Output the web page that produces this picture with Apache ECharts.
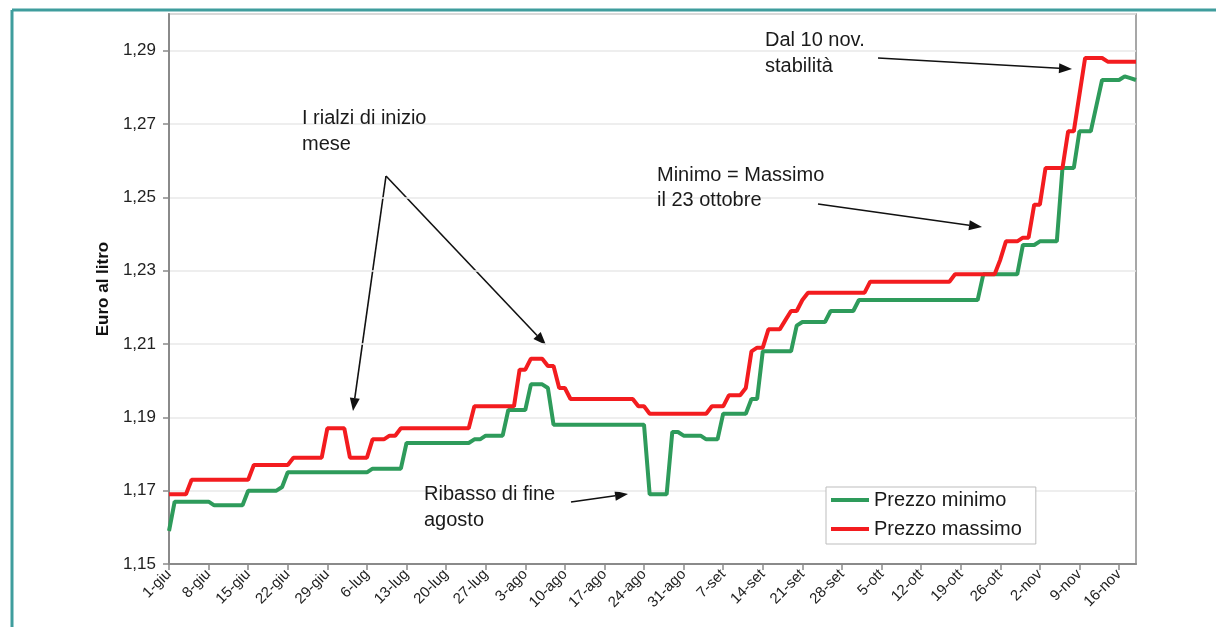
<!DOCTYPE html>
<html>
<head>
<meta charset="utf-8">
<title>Prezzo minimo e massimo</title>
<script src="https://cdn.jsdelivr.net/npm/echarts@6/dist/echarts.min.js"></script>
<style>
html, body { margin: 0; padding: 0; background: #fff; }
#chart { width: 1216px; height: 627px; }
</style>
</head>
<body>
<div id="chart"></div>
<script>
// giorni dal 1 giugno al 19 novembre
var mesi = ['giu', 'lug', 'ago', 'set', 'ott', 'nov'];
var giorniMese = [30, 31, 31, 30, 31, 19];
var giorni = [];
for (var m = 0; m < mesi.length; m++) {
    for (var d = 1; d <= giorniMese[m]; d++) giorni.push(d + '-' + mesi[m]);
}

// prezzo minimo (euro al litro)
var prezzoMinimo = [
    1.159, 1.167, 1.167, 1.167, 1.167, 1.167, 1.167, 1.167, 1.166, 1.166,
    1.166, 1.166, 1.166, 1.166, 1.170, 1.170, 1.170, 1.170, 1.170, 1.170,
    1.171, 1.175, 1.175, 1.175, 1.175, 1.175, 1.175, 1.175, 1.175, 1.175,
    1.175, 1.175, 1.175, 1.175, 1.175, 1.175, 1.176, 1.176, 1.176, 1.176,
    1.176, 1.176, 1.183, 1.183, 1.183, 1.183, 1.183, 1.183, 1.183, 1.183,
    1.183, 1.183, 1.183, 1.183, 1.184, 1.184, 1.185, 1.185, 1.185, 1.185,
    1.192, 1.192, 1.192, 1.192, 1.199, 1.199, 1.199, 1.198, 1.188, 1.188,
    1.188, 1.188, 1.188, 1.188, 1.188, 1.188, 1.188, 1.188, 1.188, 1.188,
    1.188, 1.188, 1.188, 1.188, 1.188, 1.169, 1.169, 1.169, 1.169, 1.186,
    1.186, 1.185, 1.185, 1.185, 1.185, 1.184, 1.184, 1.184, 1.191, 1.191,
    1.191, 1.191, 1.191, 1.195, 1.195, 1.208, 1.208, 1.208, 1.208, 1.208,
    1.208, 1.215, 1.216, 1.216, 1.216, 1.216, 1.216, 1.219, 1.219, 1.219,
    1.219, 1.219, 1.222, 1.222, 1.222, 1.222, 1.222, 1.222, 1.222, 1.222,
    1.222, 1.222, 1.222, 1.222, 1.222, 1.222, 1.222, 1.222, 1.222, 1.222,
    1.222, 1.222, 1.222, 1.222, 1.229, 1.229, 1.229, 1.229, 1.229, 1.229,
    1.229, 1.237, 1.237, 1.237, 1.238, 1.238, 1.238, 1.238, 1.258, 1.258,
    1.258, 1.268, 1.268, 1.268, 1.275, 1.282, 1.282, 1.282, 1.282, 1.283,
    1.2825, 1.282
];

// prezzo massimo (euro al litro)
var prezzoMassimo = [
    1.169, 1.169, 1.169, 1.169, 1.173, 1.173, 1.173, 1.173, 1.173, 1.173,
    1.173, 1.173, 1.173, 1.173, 1.173, 1.177, 1.177, 1.177, 1.177, 1.177,
    1.177, 1.177, 1.179, 1.179, 1.179, 1.179, 1.179, 1.179, 1.187, 1.187,
    1.187, 1.187, 1.179, 1.179, 1.179, 1.179, 1.184, 1.184, 1.184, 1.185,
    1.185, 1.187, 1.187, 1.187, 1.187, 1.187, 1.187, 1.187, 1.187, 1.187,
    1.187, 1.187, 1.187, 1.187, 1.193, 1.193, 1.193, 1.193, 1.193, 1.193,
    1.193, 1.193, 1.203, 1.203, 1.206, 1.206, 1.206, 1.204, 1.204, 1.198,
    1.198, 1.195, 1.195, 1.195, 1.195, 1.195, 1.195, 1.195, 1.195, 1.195,
    1.195, 1.195, 1.195, 1.193, 1.193, 1.191, 1.191, 1.191, 1.191, 1.191,
    1.191, 1.191, 1.191, 1.191, 1.191, 1.191, 1.193, 1.193, 1.193, 1.196,
    1.196, 1.196, 1.198, 1.208, 1.209, 1.209, 1.214, 1.214, 1.214, 1.2165,
    1.219, 1.219, 1.222, 1.224, 1.224, 1.224, 1.224, 1.224, 1.224, 1.224,
    1.224, 1.224, 1.224, 1.224, 1.227, 1.227, 1.227, 1.227, 1.227, 1.227,
    1.227, 1.227, 1.227, 1.227, 1.227, 1.227, 1.227, 1.227, 1.227, 1.229,
    1.229, 1.229, 1.229, 1.229, 1.229, 1.229, 1.229, 1.233, 1.238, 1.238,
    1.238, 1.239, 1.239, 1.248, 1.248, 1.258, 1.258, 1.258, 1.258, 1.268,
    1.268, 1.278, 1.288, 1.288, 1.288, 1.288, 1.287, 1.287, 1.287, 1.287,
    1.287, 1.287
];

var FONT = '"Liberation Sans", Arial, sans-serif';

// note e frecce (pixel)
var note = [
    ['Dal 10 nov.', 765, 40], ['stabilità', 765, 66],
    ['I rialzi di inizio', 302, 118], ['mese', 302, 144],
    ['Minimo = Massimo', 657, 175], ['il 23 ottobre', 657, 200],
    ['Ribasso di fine', 424, 494], ['agosto', 424, 520]
];
var frecce = [
    [878, 58, 1072, 69],
    [818, 204, 982, 227],
    [386, 176, 353, 411],
    [386, 176, 546, 345],
    [571, 502, 628, 494]
];

function freccia(x1, y1, x2, y2) {
    var dx = x2 - x1, dy = y2 - y1;
    var len = Math.sqrt(dx * dx + dy * dy);
    var ux = dx / len, uy = dy / len;
    var bx = x2 - ux * 13, by = y2 - uy * 13;
    return [
        { type: 'line', shape: { x1: x1, y1: y1, x2: bx, y2: by },
          style: { stroke: '#111', lineWidth: 1.6 } },
        { type: 'polygon', shape: { points: [[x2, y2], [bx - uy * 5, by + ux * 5], [bx + uy * 5, by - ux * 5]] },
          style: { fill: '#111' } }
    ];
}

var grafica = [
    { type: 'line', shape: { x1: 12, y1: 10, x2: 1216, y2: 10 }, style: { stroke: '#3f9d9d', lineWidth: 3 } },
    { type: 'line', shape: { x1: 12, y1: 10, x2: 12, y2: 627 }, style: { stroke: '#3f9d9d', lineWidth: 3 } }
];
note.forEach(function (n) {
    grafica.push({ type: 'text', x: n[1], y: n[2], z: 10,
        style: { text: n[0], font: '20px ' + FONT, fill: '#1a1a1a', verticalAlign: 'middle' } });
});
frecce.forEach(function (f) {
    grafica = grafica.concat(freccia(f[0], f[1], f[2], f[3]));
});

var chart = echarts.init(document.getElementById('chart'));
chart.setOption({
    animation: false,
    backgroundColor: '#fff',
    textStyle: { fontFamily: FONT },
    grid: {
        left: 169, right: 80, top: 14, bottom: 63,
        show: true, borderColor: '#8a8a8a', borderWidth: 1.5
    },
    legend: {
        orient: 'vertical',
        left: 826, top: 487,
        padding: [3, 14, 5, 5],
        itemGap: 9,
        itemWidth: 38, itemHeight: 4,
        icon: 'rect',
        borderColor: '#bdbdbd', borderWidth: 1,
        backgroundColor: '#fff',
        textStyle: { fontSize: 20, color: '#1a1a1a', fontFamily: FONT },
        data: ['Prezzo minimo', 'Prezzo massimo']
    },
    xAxis: {
        type: 'category',
        data: giorni,
        boundaryGap: false,
        axisLine: { lineStyle: { color: '#8a8a8a', width: 2 } },
        axisTick: { interval: 6, length: 6, lineStyle: { color: '#8a8a8a', width: 1.5 } },
        axisLabel: { interval: 6, rotate: 45, fontSize: 15, color: '#222', margin: 8 },
        splitLine: { show: false }
    },
    yAxis: {
        type: 'value',
        min: 1.15, max: 1.30, interval: 0.02,
        name: 'Euro al litro',
        nameLocation: 'middle',
        nameGap: 52,
        nameTextStyle: { fontWeight: 'bold', fontSize: 17, color: '#111' },
        axisLine: { show: true, lineStyle: { color: '#8a8a8a', width: 2 } },
        axisTick: { show: true, length: 6, lineStyle: { color: '#8a8a8a', width: 1.5 } },
        axisLabel: {
            fontSize: 17, color: '#222', margin: 13, showMaxLabel: false,
            formatter: function (v) { return v.toFixed(2).replace('.', ','); }
        },
        splitLine: { lineStyle: { color: '#e8e8e8', width: 1.5 } }
    },
    series: [
        {
            name: 'Prezzo minimo', type: 'line', data: prezzoMinimo,
            showSymbol: false, color: '#2e9b5b',
            lineStyle: { width: 4, color: '#2e9b5b' },
            emphasis: { disabled: true }
        },
        {
            name: 'Prezzo massimo', type: 'line', data: prezzoMassimo,
            showSymbol: false, color: '#f31c1f',
            lineStyle: { width: 4, color: '#f31c1f' },
            emphasis: { disabled: true }
        }
    ],
    graphic: grafica
});
</script>
</body>
</html>
